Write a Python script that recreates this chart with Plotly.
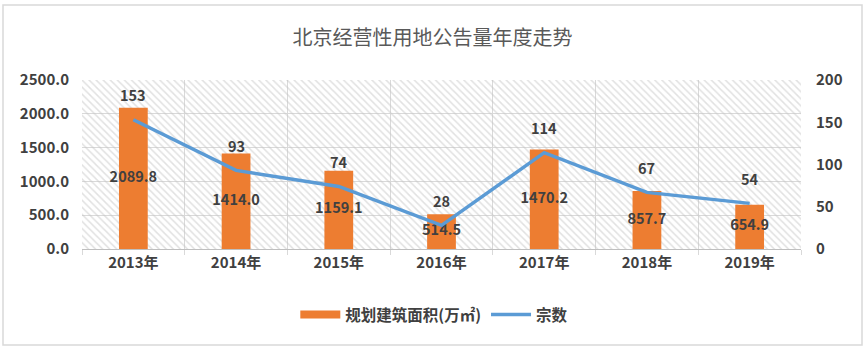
import plotly.graph_objects as go

years = ["2013年", "2014年", "2015年", "2016年", "2017年", "2018年", "2019年"]
area = [2089.8, 1414.0, 1159.1, 514.5, 1470.2, 857.7, 654.9]
counts = [153, 93, 74, 28, 114, 67, 54]
area_name = "规划建筑面积(万㎡)"
count_name = "宗数"

FONT = "Noto Sans CJK SC"
TXT = "#404040"
ORANGE = "#ED7D31"
BLUE = "#5B9BD5"

fig = go.Figure()

# hatched plot background
fig.add_trace(go.Bar(
    x=years, y=[2500] * len(years), width=1,
    marker=dict(color="rgba(0,0,0,0)", line=dict(width=0),
                pattern=dict(shape="\\", fgcolor="#c4c4c4", size=5, solidity=0.3, fillmode="overlay")),
    showlegend=False, hoverinfo="skip",
))

fig.add_trace(go.Bar(
    x=years, y=area, name=area_name, width=0.28, showlegend=False,
    marker=dict(color=ORANGE, line=dict(width=0)),
))

fig.add_trace(go.Scatter(
    x=years, y=[v / 2 for v in area], mode="text",
    text=[f"<b>{v:.1f}</b>" for v in area],
    textfont=dict(family=FONT, size=14.5, color=TXT),
    showlegend=False, hoverinfo="skip",
))

# legend entry for bars (wide swatch)
fig.add_trace(go.Scatter(
    x=[None], y=[None], mode="lines", name=area_name,
    line=dict(color=ORANGE, width=8),
))

fig.add_trace(go.Scatter(
    x=years, y=counts, name=count_name, yaxis="y2", mode="lines",
    line=dict(color=BLUE, width=3.5),
))

for yr, c in zip(years, counts):
    fig.add_annotation(x=yr, y=c, yref="y2", text=f"<b>{c}</b>", showarrow=False,
                       yanchor="middle", yshift=25,
                       font=dict(family=FONT, size=14.5, color=TXT))

tickfont = dict(family=FONT, size=15, color=TXT, weight="bold")

fig.update_layout(
    width=865, height=357,
    margin=dict(l=82, r=64, t=80, b=108),
    paper_bgcolor="white", plot_bgcolor="white",
    barmode="overlay",
    font=dict(family=FONT, color=TXT),
    title=dict(text="北京经营性用地公告量年度走势", x=0.5, xanchor="center",
               y=1 - 38 / 357, yanchor="middle",
               font=dict(family=FONT, size=20, color="#595959")),
    xaxis=dict(type="category", tickson="boundaries", showgrid=True, gridcolor="#d9d9d9",
               gridwidth=1, ticks="outside", ticklen=5, tickcolor="#d9d9d9",
               showline=True, linecolor="#bfbfbf", range=[-0.5, 6.5],
               tickfont=tickfont),
    yaxis=dict(range=[0, 2500], dtick=500, tickformat=".1f", showgrid=True,
               gridcolor="#d9d9d9", zeroline=False, ticklabelstandoff=12,
               tickfont=tickfont),
    yaxis2=dict(range=[0, 200], dtick=50, overlaying="y", side="right",
                showgrid=False, zeroline=False, ticklabelstandoff=14,
                tickfont=tickfont),
    legend=dict(orientation="h", x=0.49, xanchor="center", y=-0.39, yanchor="middle",
                font=dict(family=FONT, size=15.5, color=TXT, weight="bold"),
                traceorder="normal", itemwidth=40),
    shapes=[dict(type="rect", xref="paper", yref="paper",
                 x0=(3 - 82) / 719, x1=(862 - 82) / 719,
                 y0=(249 - 345) / 169, y1=(249 - 5) / 169,
                 line=dict(color="#d9d9d9", width=1.5), fillcolor="rgba(0,0,0,0)",
                 layer="below")],
)

fig.write_html("out.html", config={"displayModeBar": False},
               post_script="document.body.style.margin='0';")
